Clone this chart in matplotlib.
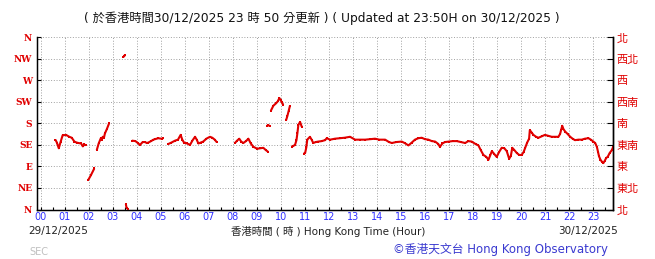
"""Wind direction trace for the last 24 hours (HKO style)."""

import numpy as np
import matplotlib
matplotlib.use("Agg")
import matplotlib.pyplot as plt
from matplotlib.ticker import MultipleLocator

GAP = np.nan

# --- data (hour of day, wind direction in degrees); GAP breaks the trace ---
hours = [
    0.62, 0.68, 0.76, 0.84, 0.92, 1.06, 1.20, 1.30, 1.41, 1.50, 1.58, 1.69, 1.76, 1.82, 1.88, GAP,
    1.99, 2.10, 2.24, GAP,
    2.34, 2.42, 2.51, 2.55, 2.59, 2.64, 2.68, 2.76, 2.86, GAP,
    3.45, 3.49, 3.52, GAP,
    3.55, 3.58, 3.62, GAP,
    3.80, 3.95, 4.05, 4.14, 4.25, 4.35, 4.42, 4.49, 4.60, 4.70, 4.76, 4.90, 5.04, 5.10, GAP,
    5.32, 5.45, 5.60, 5.72, 5.83, 5.90, 5.97, 6.10, 6.22, 6.32, 6.43, 6.50, 6.57, 6.67, 6.77,
    6.90, 7.05, 7.15, 7.25, 7.33, GAP,
    8.09, 8.18, 8.27, 8.35, 8.44, 8.55, 8.65, 8.75, 8.86, 9.02, 9.15, 9.27, 9.38, 9.46, GAP,
    9.42, 9.48, 9.53, GAP,
    9.58, 9.69, 9.80, 9.87, 9.94, 10.00, 10.04, 10.10, GAP,
    10.22, 10.27, 10.32, 10.38, GAP,
    10.45, 10.52, 10.59, 10.65, 10.69, 10.73, 10.80, 10.87, GAP,
    10.95, 11.01, 11.06, 11.10, 11.21, 11.28, 11.35, 11.45, 11.56, 11.70, 11.84, 11.91, 12.05,
    12.25, 12.45, 12.65, 12.88, 13.09, 13.30, 13.51, 13.70, 13.92, 14.10, 14.34, 14.50, 14.62,
    14.80, 15.03, 15.15, 15.31, 15.45, 15.58, 15.72, 15.86, 16.00, 16.14, 16.28, 16.42, 16.55,
    16.62, 16.72, 16.83, 17.00, 17.15, 17.32, 17.50, 17.67, 17.80, 17.94, 18.10, 18.22, 18.32,
    18.43, 18.55, 18.64, 18.72, 18.78, 18.88, 18.98, 19.08, 19.19, 19.30, 19.40, 19.50, 19.57,
    19.63, 19.72, 19.82, 19.92, 20.02, 20.10, 20.16, 20.25, 20.33,
    20.36, 20.45, 20.51, 20.62, 20.72, 20.85, 20.99, 21.13, 21.27, 21.40, 21.55, 21.62, 21.66,
    21.71, 21.76, 21.83, 21.93, 22.04, 22.14, 22.24, 22.38, 22.52, 22.65, 22.80, 22.90, 23.00,
    23.08, 23.15, 23.20, 23.24, 23.30, 23.36, 23.42, 23.48, 23.54, 23.60, 23.68, 23.77, 23.83,
]
direction = [
    146, 140, 128, 142, 155, 156, 152, 150, 142, 140, 139, 138, 132, 136, 134, GAP,
    62, 72, 86, GAP,
    124, 138, 149, 146, 152, 150, 159, 168, 181, GAP,
    319, 321, 324, GAP,
    11, 4, 2, GAP,
    144, 143, 139, 135, 141, 141, 139, 140, 143, 146, 147, 149, 148, 149, GAP,
    137, 140, 144, 146, 156, 146, 140, 138, 135, 144, 152, 146, 138, 140, 142,
    148, 152, 150, 146, 141, GAP,
    139, 144, 148, 142, 139, 143, 148, 138, 131, 127, 128, 129, 124, 121, GAP,
    175, 176, 175, GAP,
    206, 217, 222, 226, 233, 228, 224, 219, GAP,
    187, 195, 205, 217, GAP,
    131, 133, 135, 145, 160, 177, 183, 173, GAP,
    117, 118, 130, 146, 152, 146, 139, 141, 142, 143, 145, 149, 146,
    148, 149, 150, 152, 146, 146, 146, 147, 148, 146, 146, 141, 139,
    141, 142, 139, 134, 140, 146, 149, 150, 147, 146, 143, 142, 137,
    131, 138, 141, 142, 143, 143, 141, 139, 143, 142, 137, 134, 124,
    114, 110, 104, 114, 122, 116, 110, 120, 129, 128, 122, 106, 112,
    129, 124, 118, 114, 114, 120, 128, 140, 148,
    166, 160, 156, 152, 150, 153, 156, 154, 152, 152, 152, 158, 166,
    175, 168, 163, 158, 152, 148, 145, 146, 146, 148, 149, 146, 142,
    139, 131, 120, 111, 104, 100, 97, 102, 108, 110, 118, 124, 131,
]

compass_en = ["N", "NE", "E", "SE", "S", "SW", "W", "NW", "N"]
compass_zh = ["北", "東北", "東", "東南", "南", "西南", "西", "西北", "北"]
hour_labels = [f"{h:02d}" for h in range(24)]

RED = "#e00000"
BLUE = "#3030ff"
W, H = 655, 259


def fx(px):
    return px / W


def fy(py):
    return 1 - py / H


fig = plt.figure(figsize=(W / 100, H / 100), dpi=100)
ax = fig.add_axes([fx(36.5), fy(209.5), (613.3 - 36.5) / W, (209.5 - 37.3) / H])

ax.set_xlim(-10 / 60, 23 + 50 / 60)
ax.set_ylim(0, 360)

ax.plot(hours, direction, color=RED, lw=1.5, marker="s", ms=1.7,
        markeredgewidth=0, solid_capstyle="butt", zorder=3)

ax.set_xticks(range(24))
ax.set_xticklabels(hour_labels, color=BLUE, fontsize=7)
ax.xaxis.set_minor_locator(MultipleLocator(0.5))
ax.tick_params(axis="x", which="both", direction="in", length=2.5, pad=1.5, width=0.8)

ax.set_yticks(range(0, 361, 45))
ax.set_yticklabels(compass_en, color=RED, fontsize=6.5, fontweight="bold",
                   family="DejaVu Serif")
ax.tick_params(axis="y", direction="in", length=3, pad=3, width=0.8)

ax.grid(True, which="major", color="#a0a0a0", linestyle=(0, (1, 1.8)), lw=0.7)
ax.spines["top"].set_visible(False)
for side in ("left", "bottom", "right"):
    ax.spines[side].set_linewidth(1.0)

ax2 = ax.twinx()
ax2.set_ylim(0, 360)
ax2.set_yticks(range(0, 361, 45))
ax2.set_yticklabels(compass_zh, color=RED, fontsize=8, family="Noto Sans CJK TC")
ax2.tick_params(axis="y", direction="in", length=4, pad=2.5, width=0.8)
ax2.spines["top"].set_visible(False)
ax2.spines["right"].set_linewidth(1.0)

mixed = ["DejaVu Sans", "Noto Sans CJK TC"]
fig.text(fx(322), fy(18),
         "( 於香港時間30/12/2025 23 時 50 分更新 ) ( Updated at 23:50H on 30/12/2025 )",
         ha="center", va="center", fontsize=8.8, family=mixed, color="#111111")
fig.text(fx(28), fy(231), "29/12/2025", ha="left", va="center",
         fontsize=7.5, color="#222222")
fig.text(fx(328), fy(231), "香港時間 ( 時 ) Hong Kong Time (Hour)", ha="center",
         va="center", fontsize=7.5, family=mixed, color="#222222")
fig.text(fx(618), fy(231), "30/12/2025", ha="right", va="center",
         fontsize=7.5, color="#222222")
fig.text(fx(608), fy(249), "©香港天文台 Hong Kong Observatory", ha="right",
         va="center", fontsize=8.5, family=mixed, color="#3a3ad0")
fig.text(fx(29), fy(252), "SEC", ha="left", va="center", fontsize=7,
         color="#c0c0c0")

fig.savefig("out.png", dpi=100, facecolor="white")
